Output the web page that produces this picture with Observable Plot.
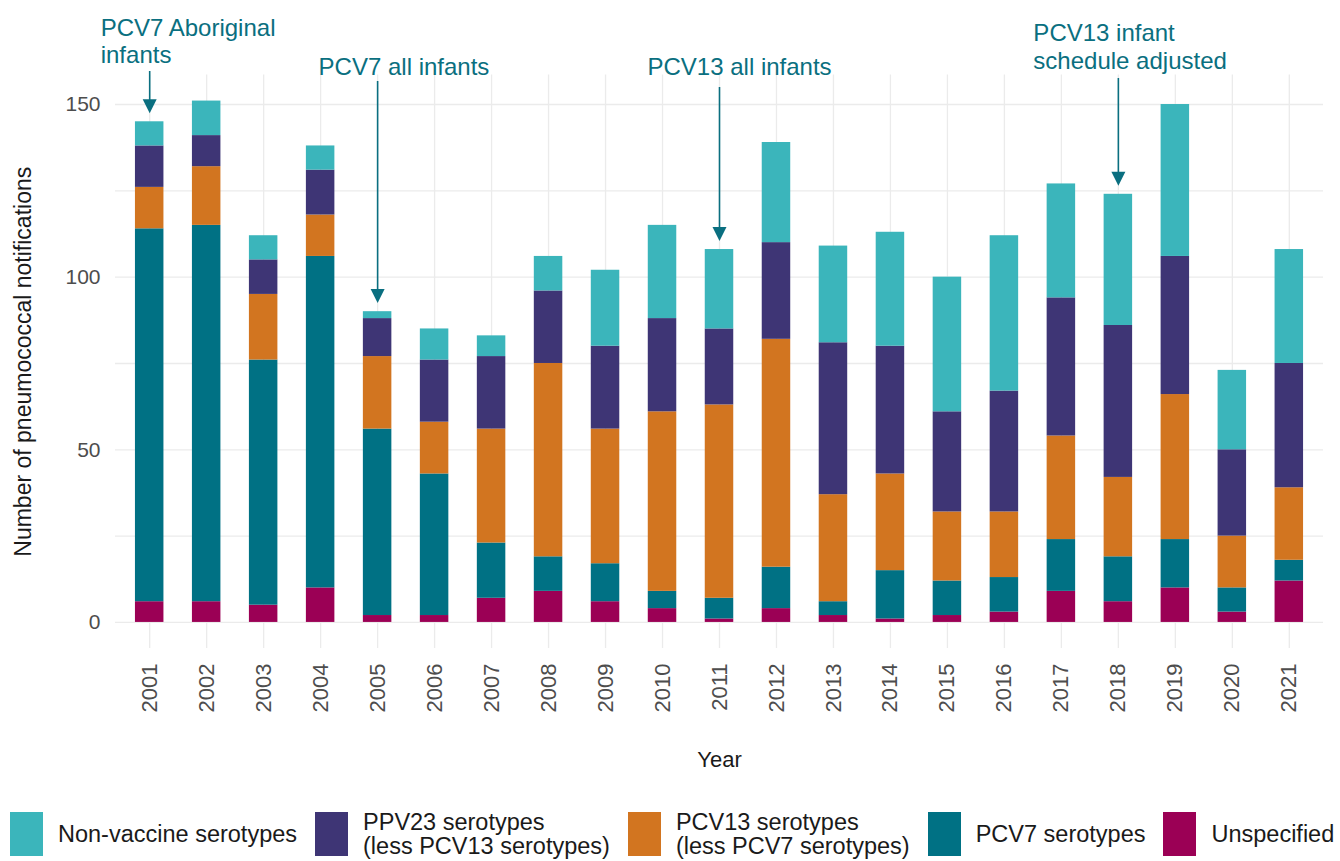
<!DOCTYPE html>
<html><head><meta charset="utf-8">
<script src="https://cdn.jsdelivr.net/npm/d3@7"></script>
<script src="https://cdn.jsdelivr.net/npm/@observablehq/plot@0.6"></script>
<style>
html,body{margin:0;padding:0;background:#fff;}
#wrap{position:relative;width:1340px;height:861px;font-family:"Liberation Sans",Arial,sans-serif;overflow:hidden;}
#legend{position:absolute;left:10px;top:812px;height:44px;display:flex;align-items:center;}
.item{display:flex;align-items:center;margin-right:18px;}
.sw{width:33px;height:44px;margin-right:15px;flex:none;}
.lab{font-size:23.5px;line-height:24px;color:#1a1a1a;white-space:nowrap;}
</style></head><body><div id="wrap"><div id="chart"></div><div id="legend"></div></div>
<script>
const years = ["2001","2002","2003","2004","2005","2006","2007","2008","2009","2010","2011","2012","2013","2014","2015","2016","2017","2018","2019","2020","2021"];
const unspecified = [6,6,5,10,2,2,7,9,6,4,1,4,2,1,2,3,9,6,10,3,12];
const pcv7 = [108,109,71,96,54,41,16,10,11,5,6,12,4,14,10,10,15,13,14,7,6];
const pcv13 = [12,17,19,12,21,15,33,56,39,52,56,66,31,28,20,19,30,23,42,15,21];
const ppv23 = [12,9,10,13,11,18,21,21,24,27,22,28,44,37,29,35,40,44,40,25,36];
const nonVaccine = [7,10,7,7,2,9,6,10,22,27,23,29,28,33,39,45,33,38,44,23,33];

const seriesNames = ["Non-vaccine serotypes","PPV23 serotypes\n(less PCV13 serotypes)","PCV13 serotypes\n(less PCV7 serotypes)","PCV7 serotypes","Unspecified"];
const seriesColors = ["#3bb5bb","#3e3575","#d27520","#007184","#9b0055"];
const yTicks = [0,50,100,150];
const yGrid = [0,25,50,75,100,125,150];

const annYears = ["2001","2005","2011","2018"];
const annLabels = ["PCV7 Aboriginal\ninfants","PCV7 all infants","PCV13 all infants","PCV13 infant\nschedule adjusted"];

// build tidy table (stack bottom-up)
const bottomUp = [
  [seriesNames[4], unspecified],
  [seriesNames[3], pcv7],
  [seriesNames[2], pcv13],
  [seriesNames[1], ppv23],
  [seriesNames[0], nonVaccine]
];
const tidy = [];
bottomUp.forEach(([name, vals]) => vals.forEach((v, i) => tidy.push({year: years[i], series: name, value: v})));
const totals = {};
years.forEach((y, i) => totals[y] = unspecified[i] + pcv7[i] + pcv13[i] + ppv23[i] + nonVaccine[i]);
const ann = annYears.map((y, i) => ({year: y, label: annLabels[i], total: totals[y]}));

// layout
const W = 1340, H = 795;
const yMin = -7.55, yMax = 158.55, plotTop = 74.5, plotBottom = 648;
const pxPerUnit = (plotBottom - plotTop) / (yMax - yMin);
const pxToY = px => yMax - (px - plotTop) / pxPerUnit;
const teal = "#0a6f80";
const annDx = [-49, -59, -72, -85];
const annBase = [62, 74, 74, 68];
const annLH = [1.125, 1, 1, 1.167];
const annStart = [71, 81, 87, 78];

const downTri = {draw(ctx) { ctx.moveTo(0, 0); ctx.lineTo(-7, -14); ctx.lineTo(7, -14); ctx.closePath(); }};

const marks = [
  Plot.gridY(yGrid, {stroke: "#ebebeb", strokeOpacity: 1, strokeWidth: 1.3}),
  Plot.gridX({stroke: "#ebebeb", strokeOpacity: 1, strokeWidth: 1.3}),
  Plot.axisY(yTicks, {tickSize: 0, tickPadding: 15, fontSize: 21, color: "#4d4d4d", label: null}),
  Plot.axisX({tickSize: 0, tickPadding: 15, tickRotate: -90, fontSize: 22, color: "#4d4d4d", label: null}),
  Plot.barY(tidy, {x: "year", y: "value", fill: "series", order: null}),
  Plot.ruleX(ann, {x: "year", y1: (d, i) => pxToY(annStart[i]), y2: d => d.total + 5, stroke: teal, strokeWidth: 1.6}),
  Plot.dot(ann, {x: "year", y: d => d.total + 2.5, symbol: downTri, r: 5, fill: teal, stroke: "none"}),
  Plot.text(["Number of pneumococcal notifications"], {frameAnchor: "left", textAnchor: "middle", dx: -92, rotate: -90, fontSize: 23, fill: "#1a1a1a"}),
  Plot.text(["Year"], {frameAnchor: "bottom", dy: 118, fontSize: 22, fill: "#1a1a1a"})
];
ann.forEach((d, i) => {
  marks.push(Plot.text([d], {x: "year", text: "label", frameAnchor: "top", dx: annDx[i], dy: annBase[i] - plotTop,
    textAnchor: "start", lineAnchor: "bottom", lineHeight: annLH[i], fontSize: 24, fill: teal}));
});

const chart = Plot.plot({
  width: W, height: H,
  marginLeft: 115, marginRight: 17, marginTop: plotTop, marginBottom: H - plotBottom,
  style: {fontFamily: "'Liberation Sans', Arial, sans-serif", background: "white", overflow: "visible"},
  x: {domain: years, paddingInner: 0.5, paddingOuter: 0.35, round: false, label: null},
  y: {domain: [yMin, yMax], label: null},
  color: {domain: seriesNames, range: seriesColors},
  marks
});
document.getElementById("chart").appendChild(chart);

const legend = document.getElementById("legend");
seriesNames.forEach((name, i) => {
  const item = document.createElement("div");
  item.className = "item";
  const sw = document.createElement("div");
  sw.className = "sw";
  sw.style.background = seriesColors[i];
  const lab = document.createElement("div");
  lab.className = "lab";
  name.split("\n").forEach((line, j) => {
    if (j) lab.appendChild(document.createElement("br"));
    lab.appendChild(document.createTextNode(line));
  });
  item.appendChild(sw);
  item.appendChild(lab);
  legend.appendChild(item);
});
</script>
</body></html>
